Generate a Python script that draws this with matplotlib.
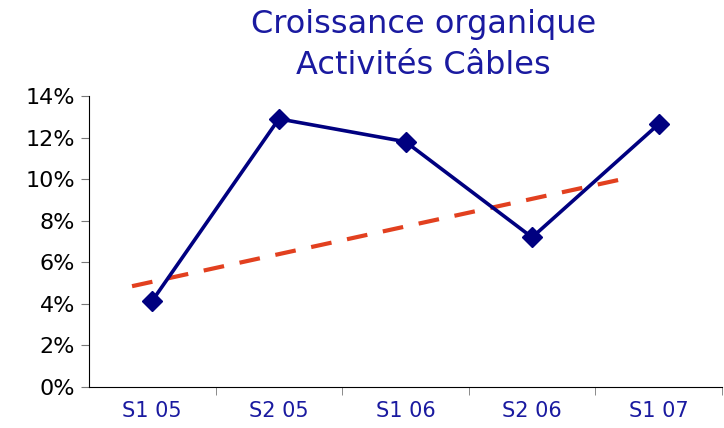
import numpy as np
import matplotlib.pyplot as plt
from matplotlib.ticker import FixedLocator, FuncFormatter

# data
periods = ['S1 05', 'S2 05', 'S1 06', 'S2 06', 'S1 07']
growth = [4.15, 12.9, 11.8, 7.2, 12.65]   # organic growth, %
trend_x = [-0.16, 3.75]                    # dashed trend line, category units
trend_y = [4.85, 10.05]

fig = plt.figure(figsize=(7.24, 4.28), dpi=100)
ax = fig.add_axes([89 / 724, 1 - 387 / 428, (722 - 89) / 724, (387 - 96) / 428])

x = np.arange(len(periods))
ax.plot(trend_x, trend_y, color='#E2401F', lw=3, dashes=(5, 3.8), zorder=2)
ax.plot(x, growth, color='#000080', lw=2.6, marker='D', markersize=10, zorder=3)

ax.set_xlim(-0.5, len(periods) - 0.5)
ax.set_ylim(0, 14)
ax.set_yticks(range(0, 15, 2))
ax.yaxis.set_major_formatter(FuncFormatter(lambda v, p: f'{v:.0f}%'))
ax.tick_params(axis='y', labelsize=16, length=6, color='#777777', pad=4)

ax.set_xticks(x)
ax.set_xticklabels(periods, color='#1a1aa0', fontsize=15)
ax.xaxis.set_minor_locator(FixedLocator(np.arange(0.5, len(periods), 1)))
ax.tick_params(axis='x', which='major', length=0, pad=10)
ax.tick_params(axis='x', which='minor', length=6, color='#777777')

for s in ['top', 'right']:
    ax.spines[s].set_visible(False)

fig.text(0.585, 0.942, 'Croissance organique', ha='center', va='center',
         fontsize=23, color='#1a1aa0')
fig.text(0.585, 0.848, 'Activités Câbles', ha='center', va='center',
         fontsize=23, color='#1a1aa0')

fig.savefig('out.png', dpi=100)
